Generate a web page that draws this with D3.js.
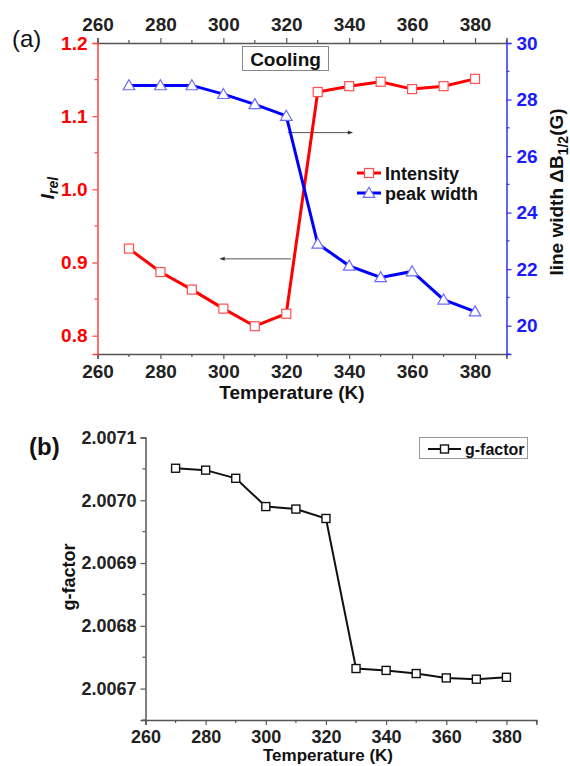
<!DOCTYPE html>
<html><head><meta charset="utf-8">
<script src="https://cdn.jsdelivr.net/npm/d3@7/dist/d3.min.js"></script>
<style>
body{margin:0;background:#fff;}
text{font-family:"Liberation Sans",Arial,sans-serif;font-weight:bold;}
</style></head>
<body><svg id="c" width="570" height="766"></svg>
<script>
const temps = [270,280,290,300,310,320,330,340,350,360,370,380];
const intensity = [0.919,0.887,0.863,0.837,0.813,0.830,1.133,1.141,1.147,1.137,1.141,1.151];
const peakWidth = [28.5,28.5,28.5,28.19,27.83,27.42,22.9,22.12,21.71,21.92,20.92,20.5];
const gFactor = [2.007051,2.007048,2.007035,2.006990,2.006986,2.006971,2.006732,2.006729,2.006724,2.006717,2.006715,2.006718];
const xTicks = [260,280,300,320,340,360,380];
const iTicks = [0.8,0.9,1.0,1.1,1.2];
const wTicks = [20,22,24,26,28,30];
const gTicks = [2.0067,2.0068,2.0069,2.0070,2.0071];

const svg = d3.select("#c");
const FF = "Liberation Sans, Arial, sans-serif";

function minorTicks(g, scale, orient, vals, len, color){
  vals.forEach(v=>{
    const p = scale(v);
    const l = g.append("line").attr("stroke",color).attr("stroke-width",1.2);
    if(orient==="bottom") l.attr("x1",p).attr("x2",p).attr("y1",0).attr("y2",len);
    if(orient==="top") l.attr("x1",p).attr("x2",p).attr("y1",0).attr("y2",-len);
    if(orient==="left") l.attr("y1",p).attr("y2",p).attr("x1",0).attr("x2",-len);
    if(orient==="right") l.attr("y1",p).attr("y2",p).attr("x1",0).attr("x2",len);
  });
}
function styleAxis(g, color, fontColor, fs){
  g.attr("font-family",FF).attr("font-size",fs).attr("font-weight","bold");
  g.select(".domain").attr("stroke",color).attr("stroke-width",1.5);
  g.selectAll(".tick line").attr("stroke",color).attr("stroke-width",1.2);
  g.selectAll(".tick text").attr("fill",fontColor)
    .attr("font-size",fs).attr("font-weight","bold").attr("font-family",FF)
    .style("font-size",fs+"px").style("font-weight","bold");
}

// ---------- Panel (a) ----------
const A = {l:97.5, r:506.5, t:43, b:354};
const xa = d3.scaleLinear().domain([260,390]).range([A.l,A.r]);
const yi = d3.scaleLinear().domain([0.775,1.2]).range([A.b,A.t]);
const yw = d3.scaleLinear().domain([19,30]).range([A.b,A.t]);
const minorX = [270,290,310,330,350,370,390];

let g = svg.append("g").attr("transform",`translate(0,${A.b})`)
  .call(d3.axisBottom(xa).tickValues(xTicks).tickSize(5).tickPadding(6).tickFormat(d3.format("d")));
styleAxis(g,"#555","#222",19); minorTicks(g,xa,"bottom",minorX,3,"#555");
g = svg.append("g").attr("transform",`translate(0,${A.t})`)
  .call(d3.axisTop(xa).tickValues(xTicks).tickSize(5).tickPadding(7).tickFormat(d3.format("d")));
styleAxis(g,"#555","#222",19); minorTicks(g,xa,"top",minorX,3,"#555");
g = svg.append("g").attr("transform",`translate(${A.l},0)`)
  .call(d3.axisLeft(yi).tickValues(iTicks).tickSize(5).tickPadding(5).tickFormat(d3.format(".1f")));
styleAxis(g,"#ff4040","#ff0000",19); minorTicks(g,yi,"left",[0.85,0.95,1.05,1.15],3,"#ff4040");
g = svg.append("g").attr("transform",`translate(${A.r},0)`)
  .call(d3.axisRight(yw).tickValues(wTicks).tickSize(5).tickPadding(5).tickFormat(d3.format("d")));
styleAxis(g,"#3030ff","#1a1aff",19); minorTicks(g,yw,"right",[19,21,23,25,27,29],3,"#3030ff");

// arrows
const defs = svg.append("defs");
defs.append("marker").attr("id","ah").attr("viewBox","0 0 10 10").attr("refX",9).attr("refY",5)
  .attr("markerWidth",7).attr("markerHeight",5).attr("orient","auto")
  .append("path").attr("d","M0,1 L10,5 L0,9 z").attr("fill","#333");
svg.append("line").attr("x1",xa(321.5)).attr("x2",xa(299)).attr("y1",yi(0.905)).attr("y2",yi(0.905))
  .attr("stroke","#555").attr("stroke-width",1).attr("marker-end","url(#ah)");
svg.append("line").attr("x1",xa(320.5)).attr("x2",xa(341)).attr("y1",yw(26.83)).attr("y2",yw(26.83))
  .attr("stroke","#555").attr("stroke-width",1).attr("marker-end","url(#ah)");

// lines
const lineI = d3.line().x((d,i)=>xa(temps[i])).y(d=>yi(d));
const lineW = d3.line().x((d,i)=>xa(temps[i])).y(d=>yw(d));
svg.append("path").attr("d",lineI(intensity)).attr("fill","none").attr("stroke","#ff0000").attr("stroke-width",3);
svg.append("path").attr("d",lineW(peakWidth)).attr("fill","none").attr("stroke","#0000ff").attr("stroke-width",3);
const tri = d3.symbol().type(d3.symbolTriangle).size(58);
svg.append("g").selectAll("path").data(peakWidth).join("path")
  .attr("d",tri).attr("transform",(d,i)=>`translate(${xa(temps[i])},${yw(d)+1})`)
  .attr("fill","#fff").attr("stroke","#6a6aff").attr("stroke-width",1.2);
svg.append("g").selectAll("rect").data(intensity).join("rect")
  .attr("x",(d,i)=>xa(temps[i])-4.5).attr("y",d=>yi(d)-4.5).attr("width",9).attr("height",9)
  .attr("fill","#fff").attr("stroke","#ff5050").attr("stroke-width",1.2);

// Cooling box
svg.append("rect").attr("x",242.5).attr("y",46.5).attr("width",86).attr("height",24)
  .attr("fill","#fff").attr("stroke","#888").attr("stroke-width",1);
svg.append("text").attr("x",285.5).attr("y",65.5).attr("text-anchor","middle").style("font-size","19px").attr("fill","#111").text("Cooling");

// legend (a)
const legA = [{name:"Intensity",c:"#ff0000",mc:"#ff5050",sym:"sq",y:173},{name:"peak width",c:"#0000ff",mc:"#6a6aff",sym:"tri",y:193}];
legA.forEach(d=>{
  svg.append("line").attr("x1",357).attr("x2",381).attr("y1",d.y).attr("y2",d.y).attr("stroke",d.c).attr("stroke-width",3);
  if(d.sym==="sq") svg.append("rect").attr("x",364.5).attr("y",d.y-4.5).attr("width",9).attr("height",9).attr("fill","#fff").attr("stroke",d.mc).attr("stroke-width",1.2);
  else svg.append("path").attr("d",tri).attr("transform",`translate(369,${d.y+1})`).attr("fill","#fff").attr("stroke",d.mc).attr("stroke-width",1.2);
  svg.append("text").attr("x",385).attr("y",d.y+6.5).style("font-size","18px").attr("fill","#111").text(d.name);
});

// axis titles (a)
svg.append("text").attr("x",292).attr("y",399).attr("text-anchor","middle").style("font-size","19px").attr("fill","#111").text("Temperature (K)");
const il = svg.append("text").attr("transform","translate(54,188) rotate(-90)").attr("text-anchor","middle").style("font-size","19px").attr("fill","#111");
il.append("tspan").style("font-style","italic").text("I");
il.append("tspan").attr("dy",4).style("font-style","italic").style("font-size","14px").text("rel");
const rl = svg.append("text").attr("transform","translate(563,192) rotate(-90)").attr("text-anchor","middle").style("font-size","19px").attr("fill","#111");
rl.append("tspan").text("line width ΔB");
rl.append("tspan").attr("dy",5).style("font-size","14px").text("1/2");
rl.append("tspan").attr("dy",-5).text("(G)");

svg.append("text").attr("x",12).attr("y",47).style("font-size","24px").style("font-weight","normal").attr("fill","#111").attr("font-family","Open Sans, sans-serif").text("(a)");

// ---------- Panel (b) ----------
const B = {l:145.5, r:536.5, t:437.5, b:720};
const xb = d3.scaleLinear().domain([260,390]).range([B.l,B.r]);
const yg = d3.scaleLinear().domain([2.00665,2.0071]).range([B.b,B.t]);
g = svg.append("g").attr("transform",`translate(0,${B.b})`)
  .call(d3.axisBottom(xb).tickValues(xTicks).tickSize(5).tickPadding(5).tickFormat(d3.format("d")));
styleAxis(g,"#555","#222",18); minorTicks(g,xb,"bottom",minorX,3,"#555");
g = svg.append("g").attr("transform",`translate(${B.l},0)`)
  .call(d3.axisLeft(yg).tickValues(gTicks).tickSize(5).tickPadding(4).tickFormat(d3.format(".4f")));
styleAxis(g,"#555","#222",18); minorTicks(g,yg,"left",[2.00665,2.00675,2.00685,2.00695,2.00705],3,"#555");

const lineG = d3.line().x((d,i)=>xb(temps[i])).y(d=>yg(d));
svg.append("path").attr("d",lineG(gFactor)).attr("fill","none").attr("stroke","#111").attr("stroke-width",2);
svg.append("g").selectAll("rect").data(gFactor).join("rect")
  .attr("x",(d,i)=>xb(temps[i])-4).attr("y",d=>yg(d)-4).attr("width",8).attr("height",8)
  .attr("fill","#fff").attr("stroke","#111").attr("stroke-width",1.4);

// legend (b)
svg.append("rect").attr("x",419.5).attr("y",437.5).attr("width",108).attr("height",21).attr("fill","#fff").attr("stroke","#999");
svg.append("line").attr("x1",428).attr("x2",461).attr("y1",449).attr("y2",449).attr("stroke","#111").attr("stroke-width",2);
svg.append("rect").attr("x",440.5).attr("y",445).attr("width",8).attr("height",8).attr("fill","#fff").attr("stroke","#111").attr("stroke-width",1.4);
svg.append("text").attr("x",465).attr("y",454.5).style("font-size","16px").attr("fill","#111").text("g-factor");

svg.append("text").attr("x",328).attr("y",761).attr("text-anchor","middle").style("font-size","17px").attr("fill","#111").text("Temperature (K)");
svg.append("text").attr("transform","translate(75,577) rotate(-90)").attr("text-anchor","middle").style("font-size","18px").attr("fill","#111").text("g-factor");
svg.append("text").attr("x",29).attr("y",455).style("font-size","24px").attr("fill","#111").text("(b)");
</script></body></html>
